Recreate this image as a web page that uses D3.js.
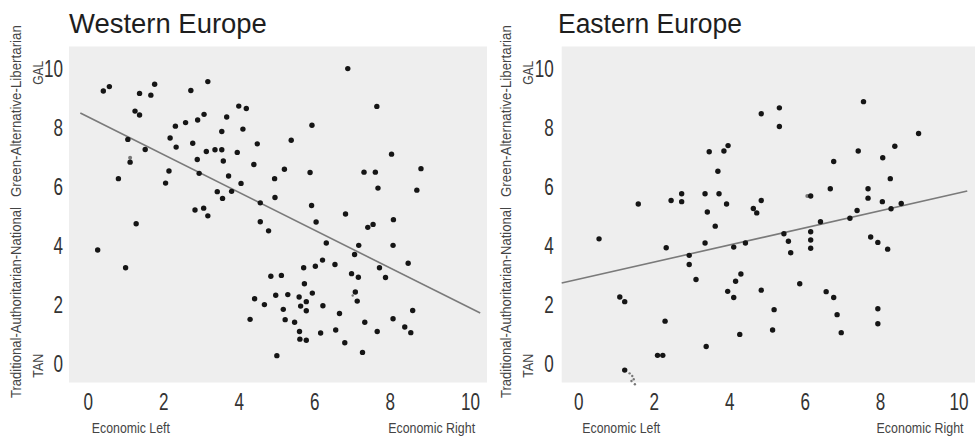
<!DOCTYPE html>
<html>
<head>
<meta charset="utf-8">
<script src="https://cdn.jsdelivr.net/npm/d3@7"></script>
<style>
  html, body { margin: 0; padding: 0; background: #ffffff; }
  svg { display: block; }
  .narrow { font-family: "Liberation Sans", Arial, sans-serif; }
  .title { font-family: "Liberation Sans", Arial, sans-serif; }
</style>
</head>
<body>
<svg id="chart" width="975" height="441"></svg>
<script>
// ---------- DATA ----------
const xTicks = [0, 2, 4, 6, 8, 10];
const yTicks = [0, 2, 4, 6, 8, 10];
const xLabelLeft = "Economic Left";
const xLabelRight = "Economic Right";
const yLabelLow = "Traditional-Authoritarian-National";
const yLabelHigh = "Green-Alternative-Libertarian";
const yEndLow = "TAN";
const yEndHigh = "GAL";

const westTitle = "Western Europe";
const westEconomic = [0.41,0.57,1.37,1.67,1.77,1.25,1.37,1.06,1.52,1.12,0.81,1.28,0.26,1.00,
  2.73,3.18,3.08,2.91,2.59,2.32,2.18,2.34,2.78,3.14,3.37,3.55,2.90,2.15,2.06,2.95,3.55,3.68,3.59,3.73,
  3.43,3.57,3.81,2.84,3.07,3.18,4.00,4.20,4.11,3.96,4.06,4.49,4.40,4.57,4.57,4.79,4.95,4.96,5.21,5.39,
  5.94,5.89,5.93,6.05,6.89,7.66,7.32,7.62,7.69,8.05,8.83,8.72,6.83,8.10,7.56,7.42,6.32,7.18,7.07,8.09,
  8.49,7.73,7.89,6.99,7.17,7.09,7.14,6.55,6.22,6.03,5.72,5.74,5.95,5.60,5.79,5.64,5.79,6.23,6.67,5.30,
  4.98,4.85,5.13,4.42,4.68,5.18,5.23,4.30,5.48,5.61,5.62,5.79,6.17,6.57,6.81,7.28,7.34,7.67,8.09,8.40,
  8.56,8.61,5.01];
const westGal = [9.21,9.36,9.13,9.07,9.44,8.53,8.40,7.57,7.23,6.80,6.24,4.71,3.82,3.22,
  9.23,9.53,8.42,8.23,8.14,8.02,7.62,7.31,7.44,7.16,7.22,7.22,6.89,6.50,6.09,6.42,7.84,8.33,6.84,6.33,
  5.80,5.57,5.81,5.18,5.24,4.98,8.70,8.62,7.92,7.13,6.08,7.42,6.72,5.42,4.78,4.47,6.24,5.60,6.56,7.54,
  8.05,6.45,5.33,4.77,9.97,8.69,6.46,6.46,5.92,7.07,6.58,5.85,5.04,4.85,4.69,4.59,4.06,3.98,3.67,3.98,
  3.37,3.22,2.89,3.02,2.90,2.40,2.09,3.33,3.48,3.27,3.22,2.68,2.36,2.23,2.07,1.92,1.76,1.93,1.67,2.31,
  2.29,2.93,2.96,2.17,1.97,1.81,1.46,1.47,1.37,1.06,0.80,0.76,1.01,1.11,0.68,0.35,1.37,1.06,1.49,1.21,
  1.02,1.77,0.24];
const westFaintEconomic = [1.12, 7.02];
const westFaintGal = [6.95, 2.28];
const westTrendX = [-0.2, 10.4];
const westTrendIntercept = 8.34;
const westTrendSlope = -0.64;

const eastTitle = "Eastern Europe";
const eastEconomic = [0.55,1.59,1.10,1.23,1.23,2.10,2.24,2.30,2.33,2.46,2.74,2.74,2.94,2.94,3.12,3.36,
  3.42,3.36,3.39,3.47,3.70,3.63,3.73,3.86,3.97,3.93,3.96,4.12,4.17,4.12,4.31,4.43,4.28,4.64,4.73,4.85,
  4.85,4.85,5.33,5.33,5.19,5.15,5.45,5.57,5.63,5.87,6.16,6.16,6.16,6.16,6.42,6.68,6.77,6.57,6.77,6.86,
  6.97,7.20,7.39,7.42,7.56,7.68,7.68,7.75,7.94,8.07,8.06,8.27,8.29,8.56,8.39,8.20,7.94,7.94,9.02];
const eastGal = [4.20,5.38,2.23,2.07,-0.25,0.25,0.25,1.41,3.90,5.50,5.73,5.46,3.64,3.33,2.82,5.73,
  5.11,4.06,0.55,7.15,6.49,4.63,5.73,7.18,7.36,5.38,2.42,2.21,2.76,3.92,3.01,4.06,0.96,5.23,5.08,5.50,
  8.44,2.46,8.64,8.01,1.80,1.11,4.37,4.12,3.73,2.68,5.65,4.44,4.16,3.88,4.78,5.90,6.82,2.41,2.21,1.63,
  1.02,4.90,5.16,7.18,8.85,5.90,5.58,4.26,4.08,6.95,5.46,6.24,5.22,5.40,7.34,3.85,1.83,1.32,7.77];
const eastFaintEconomic = [6.07, 1.36, 1.43, 1.47, 1.41, 1.50];
const eastFaintGal = [5.65, -0.36, -0.45, -0.56, -0.62, -0.73];
const eastTrendX = [-0.44, 10.31];
const eastTrendIntercept = 2.83;
const eastTrendSlope = 0.29;

// ---------- DRAW ----------
const svg = d3.select("#chart");
const digitW = d => String(d).length * 9.5;

// Draw a text squeezed horizontally to a target length (condensed look) via a scale transform.
function fitText(g, txt, opts) {
  const t = g.append("text").attr("class", opts.cls || "narrow")
    .attr("font-size", opts.size).attr("fill", opts.fill || "#444")
    .attr("text-anchor", opts.anchor || "start")
    .text(txt);
  const w = t.node().getComputedTextLength();
  const s = w > 0 ? opts.len / w : 1;
  t.attr("transform", `translate(${opts.x},${opts.y}) rotate(${opts.rotate || 0}) scale(${s},1)`);
  return t;
}

function drawPanel(o) {
  const x = d3.scaleLinear().domain([o.xMin, o.xMin + 11.08]).range([o.left, o.left + 418]);
  const y = d3.scaleLinear().domain([-0.67, 10.72]).range([382.5, 46.5]);
  const g = svg.append("g");

  g.append("rect")
    .attr("x", x.range()[0]).attr("y", y.range()[1])
    .attr("width", x.range()[1] - x.range()[0])
    .attr("height", y.range()[0] - y.range()[1])
    .attr("fill", "#eeeeee");

  // title
  fitText(g, o.title, { cls: "title", size: 28, fill: "#1e1e1e", x: o.titleX, y: 33, len: o.titleLen });

  // x axis (labels only)
  const xAxis = d3.axisBottom(x).tickValues(xTicks).tickSize(0).tickPadding(0);
  const xa = g.append("g").attr("transform", "translate(0,410)").call(xAxis);
  xa.select(".domain").remove();
  xa.selectAll("text").attr("class", "narrow").attr("font-size", 23.5).attr("fill", "#333")
    .attr("y", 0).attr("dy", 0)
    .attr("dx", d => d === 10 ? o.lastTickDx : 0)
    .attr("textLength", digitW).attr("lengthAdjust", "spacingAndGlyphs");

  // y axis (labels only)
  const yAxis = d3.axisLeft(y).tickValues(yTicks).tickSize(0).tickPadding(0);
  const ya = g.append("g").attr("transform", `translate(${x.range()[0] - o.yTickGap},0)`).call(yAxis);
  ya.select(".domain").remove();
  ya.selectAll("text").attr("class", "narrow").attr("font-size", 23.5).attr("fill", "#333")
    .attr("dy", "0.36em")
    .attr("textLength", digitW).attr("lengthAdjust", "spacingAndGlyphs");

  // axis titles
  fitText(g, xLabelLeft, { size: 14.8, x: x(0) + 4, y: 433, len: 78 });
  fitText(g, xLabelRight, { size: 14.8, x: x(10) + o.rightLabelEnd, y: 433, len: 87, anchor: "end" });

  fitText(g, yLabelLow, { size: 14.8, x: o.yLabX, y: 398, len: 191, rotate: -90 });
  fitText(g, yLabelHigh, { size: 14.8, x: o.yLabX, y: 197, len: 172, rotate: -90 });
  fitText(g, yEndHigh, { size: 14.8, x: o.yLabX + 22, y: y(10) + 17, len: 24, rotate: -90 });
  fitText(g, yEndLow, { size: 14.8, x: o.yLabX + 22, y: y(0) + 15, len: 24, rotate: -90 });

  // trend line
  const line = d3.line().x(d => x(d)).y(d => y(o.intercept + o.slope * d));
  g.append("path").datum(o.trendX).attr("d", line)
    .attr("fill", "none").attr("stroke", "#7a7a7a").attr("stroke-width", 1.6);

  // faint points
  g.append("g").selectAll("circle").data(d3.range(o.fx.length)).join("circle")
    .attr("cx", i => x(o.fx[i])).attr("cy", i => y(o.fy[i]))
    .attr("r", (i) => i === 0 ? 2 : 1.2).attr("fill", "#777");

  // points
  g.append("g").selectAll("circle").data(d3.range(o.px.length)).join("circle")
    .attr("cx", i => x(o.px[i])).attr("cy", i => y(o.py[i]))
    .attr("r", 2.7).attr("fill", "#151515");
}

drawPanel({
  left: 69, xMin: -0.5, title: westTitle, titleX: 69, titleLen: 198,
  yTickGap: 6, yLabX: 21, lastTickDx: 5, rightLabelEnd: 10,
  px: westEconomic, py: westGal, fx: westFaintEconomic, fy: westFaintGal,
  trendX: westTrendX, intercept: westTrendIntercept, slope: westTrendSlope
});
drawPanel({
  left: 561.7, xMin: -0.44, title: eastTitle, titleX: 558, titleLen: 184,
  yTickGap: 8, yLabX: 511, lastTickDx: 3, rightLabelEnd: 8,
  px: eastEconomic, py: eastGal, fx: eastFaintEconomic, fy: eastFaintGal,
  trendX: eastTrendX, intercept: eastTrendIntercept, slope: eastTrendSlope
});
</script>
</body>
</html>
